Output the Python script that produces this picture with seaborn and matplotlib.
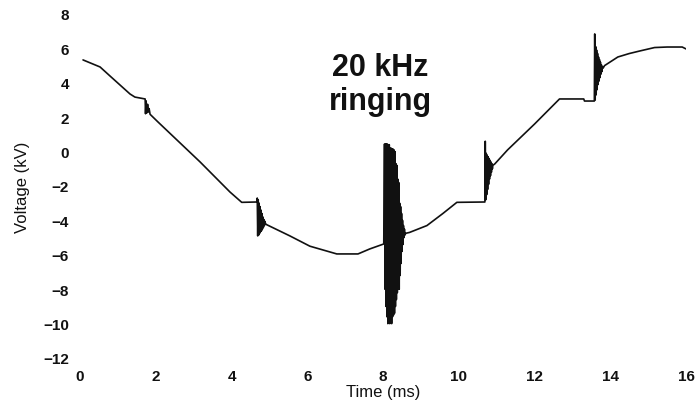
import numpy as np
import pandas as pd
import matplotlib
matplotlib.use("Agg")
import matplotlib.pyplot as plt
import seaborn as sns

# Waveform pieces: (time in ms, voltage in kV)
ramp_down_t = [0.08, 0.53, 0.79, 1.32, 1.45, 1.72]
ramp_down_v = [5.33, 4.92, 4.40, 3.35, 3.17, 3.06]

ring1_t = [1.73, 1.745, 1.765, 1.785, 1.805, 1.825, 1.85]
ring1_v = [2.20, 2.95, 2.25, 2.75, 2.30, 2.50, 2.17]

slope1_t = [2.06, 3.17, 3.96, 4.27, 4.67]
slope1_v = [1.72, -0.60, -2.35, -2.95, -2.93]

ring2_t = [4.680, 4.692, 4.705, 4.718, 4.730, 4.742, 4.755, 4.768, 4.780,
           4.792, 4.805, 4.818, 4.830, 4.842, 4.855, 4.868, 4.880, 4.900]
ring2_v = [-2.70, -4.90, -2.80, -4.85, -3.00, -4.75, -3.20, -4.65, -3.40,
           -4.60, -3.60, -4.50, -3.80, -4.40, -3.95, -4.30, -4.05, -4.20]

trough_t = [4.93, 5.54, 6.07, 6.78, 7.34, 7.65, 8.02]
trough_v = [-4.25, -4.90, -5.50, -5.95, -5.95, -5.66, -5.37]

ring3_t = [8.040, 8.053, 8.065, 8.078, 8.090, 8.103, 8.115, 8.128, 8.140,
           8.153, 8.165, 8.178, 8.190, 8.203, 8.215, 8.228, 8.240, 8.253,
           8.265, 8.278, 8.290, 8.303, 8.315, 8.328, 8.340, 8.353, 8.365,
           8.378, 8.390, 8.403, 8.415, 8.428, 8.440, 8.453, 8.465, 8.478,
           8.490, 8.503, 8.515, 8.528, 8.540, 8.553, 8.565, 8.580, 8.600]
ring3_v = [0.44, -8.00, 0.44, -9.00, 0.44, -9.60, 0.44, -10.00, 0.40,
           -9.80, 0.40, -10.00, 0.20, -9.90, 0.20, -10.00, 0.15, -9.60,
           0.15, -9.50, 0.10, -9.40, 0.00, -9.00, -0.70, -8.60, -0.80,
           -8.20, -1.60, -8.00, -1.80, -8.00, -3.00, -7.20, -3.20, -6.50,
           -3.60, -5.80, -4.00, -5.40, -4.30, -5.00, -4.50, -4.85, -4.75]

recover_t = [8.70, 9.16, 9.58, 9.95, 10.69]
recover_v = [-4.70, -4.30, -3.60, -2.95, -2.93]

ring4_t = [10.700, 10.712, 10.725, 10.738, 10.750, 10.762, 10.775, 10.788, 10.800,
           10.812, 10.825, 10.838, 10.850, 10.862, 10.875, 10.888, 10.900]
ring4_v = [0.60, -2.80, -0.10, -2.50, -0.20, -2.20, -0.30, -1.90, -0.40,
           -1.60, -0.50, -1.40, -0.60, -1.20, -0.70, -1.00, -0.80]

rise_t = [10.95, 11.29, 12.00, 12.66, 13.30, 13.32, 13.58]
rise_v = [-0.72, 0.10, 1.60, 3.06, 3.06, 2.94, 2.94]

ring5_t = [13.590, 13.602, 13.615, 13.628, 13.640, 13.652, 13.665, 13.678, 13.690,
           13.702, 13.715, 13.728, 13.740, 13.752, 13.765, 13.778, 13.790, 13.810]
ring5_v = [6.84, 3.00, 6.10, 3.30, 5.90, 3.60, 5.70, 3.90, 5.50,
           4.10, 5.35, 4.30, 5.20, 4.50, 5.05, 4.65, 4.95, 4.85]

plateau_t = [13.85, 14.20, 14.50, 14.78, 15.17, 15.50, 15.90, 16.00]
plateau_v = [5.00, 5.50, 5.70, 5.85, 6.05, 6.08, 6.08, 5.97]

x_ticks = [0, 2, 4, 6, 8, 10, 12, 14, 16]
y_ticks = [8, 6, 4, 2, 0, -2, -4, -6, -8, -10, -12]

time = (ramp_down_t + ring1_t + slope1_t + ring2_t + trough_t + ring3_t
        + recover_t + ring4_t + rise_t + ring5_t + plateau_t)
volt = (ramp_down_v + ring1_v + slope1_v + ring2_v + trough_v + ring3_v
        + recover_v + ring4_v + rise_v + ring5_v + plateau_v)
df = pd.DataFrame({"Time (ms)": time, "Voltage (kV)": volt})

sns.set_style("white")
plt.rcParams["font.family"] = ["Liberation Sans", "DejaVu Sans"]

fig = plt.figure(figsize=(6.98, 4.02), dpi=100)
ax = fig.add_axes([80 / 698, 1 - 359 / 402, 606 / 698, 344 / 402])

sns.lineplot(data=df, x="Time (ms)", y="Voltage (kV)", sort=False,
             estimator=None, color="#111111", linewidth=1.2, ax=ax)

ax.set_xlim(0, 16)
ax.set_ylim(-12, 8)
ax.set_xticks(x_ticks)
ax.set_yticks(y_ticks)
ax.set_xticklabels([str(t) for t in x_ticks], fontsize=11, fontweight="bold")
ax.set_yticklabels([str(t).replace("-", "\u2212") for t in y_ticks],
                   fontsize=11, fontweight="bold")
ax.tick_params(axis="both", length=0, pad=8, colors="#111111")
sns.despine(ax=ax, left=True, bottom=True, top=True, right=True)

ax.set_xlabel("Time (ms)", fontsize=12, color="#111111")
ax.set_ylabel("Voltage (kV)", fontsize=12, color="#111111")
ax.xaxis.set_label_coords(0.5, -0.096)
ax.yaxis.set_label_coords(-0.095, 0.5)
ax.xaxis.label.set_va("center")
ax.yaxis.label.set_va("center")

ax.text(7.92, 5.8, "20 kHz\nringing", ha="center", va="top",
        fontsize=22, fontweight="bold", color="#111111")

fig.savefig("out.png", dpi=100)
